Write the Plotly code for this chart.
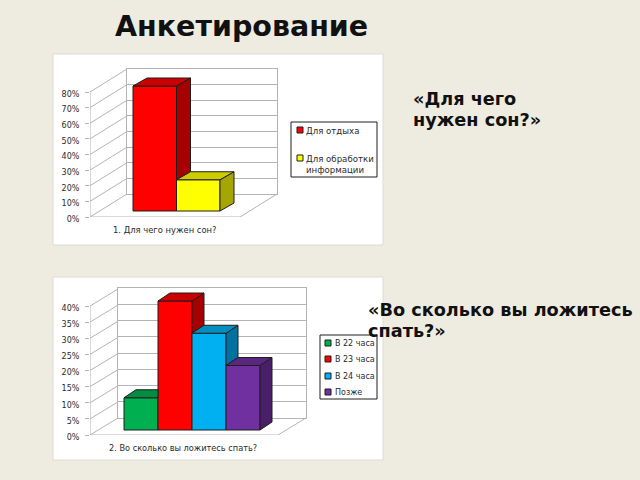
import plotly.graph_objects as go

W, H = 640, 480
BG = '#EEEBE0'
GRID = '#B4B4B4'
EDGE = '#1E1E1E'
FONT = 'DejaVu Sans'

# 1. Для чего нужен сон?
sleep_labels = ['Для отдыха', 'Для обработки<br>информации']
sleep_values = [80, 20]
sleep_front = ['#FF0000', '#FFFF00']
sleep_top = ['#CC0000', '#CCCC00']
sleep_side = ['#A60000', '#A6A600']
sleep_ticks = [0, 10, 20, 30, 40, 50, 60, 70, 80]

# 2. Во сколько вы ложитесь спать?
bed_labels = ['В 22 часа', 'В 23 часа', 'В 24 часа', 'Позже']
bed_values = [10, 40, 30, 20]
bed_front = ['#00B050', '#FF0000', '#00B0F0', '#7030A0']
bed_top = ['#008D40', '#CC0000', '#008DC0', '#5A2680']
bed_side = ['#007234', '#A60000', '#0072A0', '#491F68']
bed_ticks = [0, 5, 10, 15, 20, 25, 30, 35, 40]

fig = go.Figure()
shapes = []
notes = []


def px(x):
    return x / W


def py(y):
    return 1 - y / H


def text(x, y, s, size=8, bold=False, anchor='left', color='#2A2A2A'):
    notes.append(dict(x=px(x), y=py(y), xref='paper', yref='paper', text=f'<b>{s}</b>' if bold else s,
                      showarrow=False, xanchor=anchor, yanchor='middle', align='left',
                      font=dict(family=FONT, size=size, color=color), borderpad=0))


def box(x0, y0, x1, y1, fill, line, width=1):
    shapes.append(dict(type='rect', xref='paper', yref='paper', x0=px(x0), y0=py(y0), x1=px(x1), y1=py(y1),
                       fillcolor=fill, line=dict(color=line, width=width), layer='below'))


def chart(n, values, front, top, side, ticks, g):
    # dos pares de ejes: la pared del fondo y, encima, las barras
    wx, wy = f'xaxis{n}', f'yaxis{n}'
    fx, fy = f'xaxis{n + 1}', f'yaxis{n + 1}'
    xa, ya = f'x{n + 1}', f'y{n + 1}'
    scale = (g['y0'] - g['y_top']) / ticks[-1]
    ymax = (g['y0'] - g['wall_top']) / scale
    bw = g['bar_w']
    count = len(values)
    xmin = -0.5 - (g['bar_x'] - g['x0']) / bw
    xmax = xmin + (g['wall_x1'] - g['x0']) / bw
    base = (g['y0'] - g['bar_y']) / scale
    ddx, ddy = g['bar_dx'] / bw, g['bar_dy'] / scale
    wdx, wdy = g['wall_dx'] / bw, g['wall_dy'] / scale
    x_front_end = xmax - wdx

    fig.update_layout({
        wx: dict(domain=[px(g['x0'] + g['wall_dx']), px(g['wall_x1'])], range=[0, 1], anchor=f'y{n}',
                 showgrid=False, zeroline=False, showticklabels=False, ticks='', automargin=False,
                 showline=True, mirror=True, linecolor=GRID, linewidth=1),
        wy: dict(domain=[py(g['y0'] - g['wall_dy']), py(g['wall_top'])], range=[0, ticks[-1]], anchor=f'x{n}',
                 tickvals=ticks, showgrid=True, gridcolor=GRID, gridwidth=1, zeroline=False, automargin=False,
                 showticklabels=False, ticks='', showline=True, mirror=True, linecolor=GRID, linewidth=1),
        fx: dict(domain=[px(g['x0']), px(g['wall_x1'])], range=[xmin, xmax], anchor=f'y{n + 1}', visible=False,
                 automargin=False),
        fy: dict(domain=[py(g['y0']), py(g['wall_top'])], range=[0, ymax], anchor=f'x{n + 1}', automargin=False,
                 tickvals=ticks, ticktext=[f'{t}%' for t in ticks], showgrid=False, zeroline=False,
                 ticks='outside', ticklen=4, tickcolor=GRID, ticklabelstandoff=4, ticklabelshift=2,
                 tickfont=dict(family=FONT, size=8, color='#2A2A2A'), showline=False),
    })

    # pared del fondo: solo para que existan sus ejes
    fig.add_trace(go.Scatter(x=[0], y=[0], xaxis=f'x{n}', yaxis=f'y{n}', mode='none', showlegend=False))

    # pared izquierda y piso
    lx, ly = [xmin, xmin, None], [0, ticks[-1], None]
    for t in ticks:
        lx += [xmin, xmin + wdx, None]
        ly += [t, t + wdy, None]
    lx += [xmin, x_front_end, x_front_end + wdx, None]
    ly += [0, 0, wdy, None]
    fig.add_trace(go.Scatter(x=lx, y=ly, xaxis=xa, yaxis=ya, mode='lines',
                             line=dict(color=GRID, width=1), showlegend=False))

    fig.add_trace(go.Bar(x=list(range(count)), y=values, base=[base] * count, width=1, xaxis=xa, yaxis=ya,
                         marker=dict(color=front, line=dict(color=EDGE, width=1)), showlegend=False))

    for i, v in enumerate(values):
        x0, x1 = i - 0.5, i + 0.5
        t = base + v
        nxt = base + values[i + 1] if i < count - 1 else base
        if nxt > t:
            # la barra siguiente tapa el resto
            tx, ty = [x0, x1, x1, x0 + ddx, x0], [t, t, t + ddy, t + ddy, t]
        else:
            tx, ty = [x0, x1, x1 + ddx, x0 + ddx, x0], [t, t, t + ddy, t + ddy, t]
            fig.add_trace(go.Scatter(x=[x1, x1 + ddx, x1 + ddx, x1, x1], y=[nxt, nxt + ddy, t + ddy, t, nxt],
                                     xaxis=xa, yaxis=ya, mode='lines', fill='toself', fillcolor=side[i],
                                     line=dict(color=EDGE, width=1), showlegend=False))
        fig.add_trace(go.Scatter(x=tx, y=ty, xaxis=xa, yaxis=ya, mode='lines', fill='toself',
                                 fillcolor=top[i], line=dict(color=EDGE, width=1), showlegend=False))


box(53, 54, 383, 245, '#FFFFFF', '#DEDCD2')
box(53, 277, 383, 460, '#FFFFFF', '#DEDCD2')

chart(1, sleep_values, sleep_front, sleep_top, sleep_side, sleep_ticks,
      dict(x0=90, y0=217, y_top=92, wall_top=69, wall_x1=277, wall_dx=37, wall_dy=23,
           bar_x=133, bar_w=43.5, bar_y=211, bar_dx=14, bar_dy=8))
chart(3, bed_values, bed_front, bed_top, bed_side, bed_ticks,
      dict(x0=90, y0=435, y_top=306, wall_top=288, wall_x1=306, wall_dx=28, wall_dy=17,
           bar_x=124, bar_w=34, bar_y=430, bar_dx=12, bar_dy=8))

text(164.5, 230, '1. Для чего нужен сон?', size=8.4, anchor='center')
text(183, 448, '2. Во сколько вы ложитесь спать?', size=8.2, anchor='center')

# leyendas
box(291, 122, 377, 177, '#FFFFFF', '#1E1E1E')
for label, color, yc, ty in zip(sleep_labels, sleep_front, [130, 158], [131, 164]):
    shapes.append(dict(type='rect', xref='paper', yref='paper', x0=px(297), x1=px(303), y0=py(yc - 3), y1=py(yc + 3),
                       fillcolor=color, line=dict(color=EDGE, width=1), layer='below'))
    text(304.5, ty, label, size=8.6)
box(320, 335, 377, 399, '#FFFFFF', '#1E1E1E')
for label, color, yc in zip(bed_labels, bed_front, [343, 359, 376, 392]):
    shapes.append(dict(type='rect', xref='paper', yref='paper', x0=px(325), x1=px(331), y0=py(yc - 3), y1=py(yc + 3),
                       fillcolor=color, line=dict(color=EDGE, width=1), layer='below'))
    text(334, yc, label)

# textos de la diapositiva
text(241.5, 26, 'Анкетирование', size=28.5, bold=True, anchor='center', color='#111111')
text(412, 99, '«Для чего', size=17.7, bold=True, color='#111111')
text(412, 120, 'нужен сон?»', size=17.7, bold=True, color='#111111')
text(367, 310, '«Во сколько вы ложитесь', size=17.7, bold=True, color='#111111')
text(367, 331, 'спать?»', size=17.7, bold=True, color='#111111')

fig.update_layout(width=W, height=H, margin=dict(l=0, r=0, t=0, b=0, pad=0, autoexpand=False), paper_bgcolor=BG,
                  plot_bgcolor='rgba(0,0,0,0)', shapes=shapes, annotations=notes, showlegend=False, barmode='overlay')
# sin el margen por defecto del body ni la barra de herramientas
fig.write_html("out.html", config=dict(displayModeBar=False),
               post_script="document.body.style.margin='0';document.body.style.overflow='hidden';"
                           "document.body.style.background='" + BG + "';")
